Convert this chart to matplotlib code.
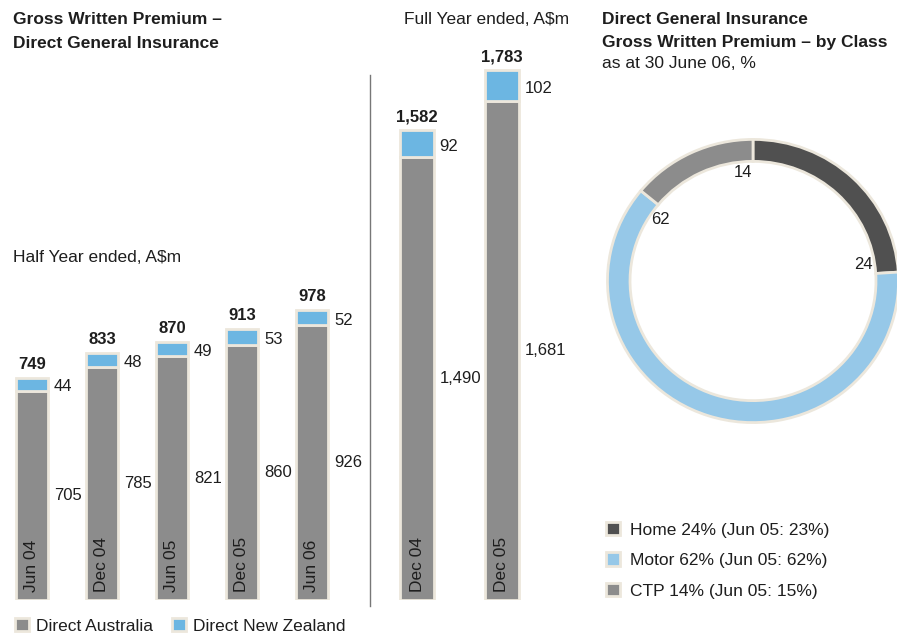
import matplotlib
matplotlib.use("Agg")
import matplotlib.pyplot as plt
import numpy as np

plt.rcParams['font.family'] = ['Liberation Sans', 'DejaVu Sans']

# half year data
half_periods = ["Jun 04", "Dec 04", "Jun 05", "Dec 05", "Jun 06"]
half_aus = [705, 785, 821, 860, 926]
half_nz = [44, 48, 49, 53, 52]
half_total = [749, 833, 870, 913, 978]

# full year data
full_periods = ["Dec 04", "Dec 05"]
full_aus = [1490, 1681]
full_nz = [92, 102]
full_total = ["1,582", "1,783"]

# class mix
classes = ["Home", "Motor", "CTP"]
class_pct = [24, 62, 14]
class_pct_prev = [23, 62, 15]

GREY = "#8c8c8c"
BLUE = "#6cb6e2"
EDGE = "#ece7dc"
TXT = "#1e1e1e"
FS = 12      # numbers
FT = 12.5    # words

W, H = 897, 633
fig = plt.figure(figsize=(W / 100, H / 100), dpi=100)


def fx(x):
    return x / W


def fy(y):
    return 1 - y / H


def stacked(ax, periods, aus, nz, totals, width):
    xs = range(len(periods))
    b1 = ax.bar(xs, aus, width, color=GREY, edgecolor=EDGE, linewidth=2)
    b2 = ax.bar(xs, nz, width, bottom=aus, color=BLUE, edgecolor=EDGE, linewidth=2)
    for i in xs:
        top = aus[i] + nz[i]
        ax.annotate(str(totals[i]), (i, top), xytext=(0, 4), textcoords="offset points",
                    ha="center", va="bottom", fontsize=FS, fontweight="bold", color=TXT)
        ax.annotate(str(nz[i]), (i + width / 2, aus[i] + nz[i] / 2), xytext=(4, -2),
                    textcoords="offset points", ha="left", va="center", fontsize=FS, color=TXT)
        ax.annotate(f"{aus[i]:,}", (i + width / 2, aus[i] / 2), xytext=(4, 0),
                    textcoords="offset points", ha="left", va="center", fontsize=FS, color=TXT)
        ax.annotate(periods[i], (i, 0), xytext=(0, 6), textcoords="offset points",
                    ha="center", va="bottom", rotation=90, fontsize=FT, color=TXT)
    ax.axis("off")
    return b1, b2


ymax = 560 / 0.297

ax1 = fig.add_axes([0, fy(600), fx(360), 560 / H])
b1, b2 = stacked(ax1, half_periods, half_aus, half_nz, half_total, 0.47)
ax1.set_xlim(-32 / 70, 328 / 70)
ax1.set_ylim(0, ymax)

ax2 = fig.add_axes([fx(380), fy(600), fx(210), 560 / H])
stacked(ax2, full_periods, full_aus, full_nz, full_total, 0.4)
ax2.set_xlim(-37 / 85, 173 / 85)
ax2.set_ylim(0, ymax)

# divider
fig.add_artist(plt.Line2D([fx(370), fx(370)], [fy(75), fy(606)], color="#777777", lw=1))

fig.text(fx(13), fy(20), "Gross Written Premium –", fontsize=FT, fontweight="bold",
         color=TXT, va="center")
fig.text(fx(13), fy(43), "Direct General Insurance", fontsize=FT, fontweight="bold",
         color=TXT, va="center")
fig.text(fx(13), fy(258), "Half Year ended, A$m", fontsize=FT, color=TXT, va="center")
fig.text(fx(404), fy(20), "Full Year ended, A$m", fontsize=FT, color=TXT, va="center")

fig.legend([b1, b2], ["Direct Australia", "Direct New Zealand"], loc="center left",
           bbox_to_anchor=(fx(15), fy(626)), ncol=2, frameon=False, fontsize=FT,
           handlelength=0.8, handleheight=0.8, handletextpad=0.4, columnspacing=1.1,
           labelcolor=TXT, borderpad=0, borderaxespad=0)

# donut
fig.text(fx(602), fy(20), "Direct General Insurance", fontsize=FT, fontweight="bold",
         color=TXT, va="center")
fig.text(fx(602), fy(42), "Gross Written Premium – by Class", fontsize=FT,
         fontweight="bold", color=TXT, va="center")
fig.text(fx(602), fy(63), "as at 30 June 06, %", fontsize=FT, color=TXT, va="center")

RX, RY = 147, 143
ax3 = fig.add_axes([fx(753 - RX), fy(281 + RY), 2 * RX / W, 2 * RY / H])
donut_cols = ["#505050", "#96c8e8", GREY]
wedges, _ = ax3.pie(class_pct, colors=donut_cols, startangle=90, counterclock=False,
                    radius=1, wedgeprops=dict(width=0.155, edgecolor=EDGE, linewidth=2))
ax3.set_aspect("auto")
ax3.set_xlim(-1.01, 1.01)
ax3.set_ylim(-1.01, 1.01)
cum = 0
for v in class_pct:
    cum += v
    ang = np.deg2rad(90 - cum * 3.6 + 5)
    ax3.text(0.77 * np.cos(ang), 0.77 * np.sin(ang), str(v), ha="center", va="center",
             fontsize=FS, color=TXT)

fig.legend(wedges, [f"{c} {a}% (Jun 05: {b}%)" for c, a, b in zip(classes, class_pct, class_pct_prev)],
           loc="upper left", bbox_to_anchor=(fx(606), fy(522)), frameon=False, fontsize=FT,
           handlelength=0.8, handleheight=0.8, handletextpad=0.6, labelspacing=0.85,
           labelcolor=TXT, borderpad=0, borderaxespad=0)

fig.savefig("out.png", dpi=100)
